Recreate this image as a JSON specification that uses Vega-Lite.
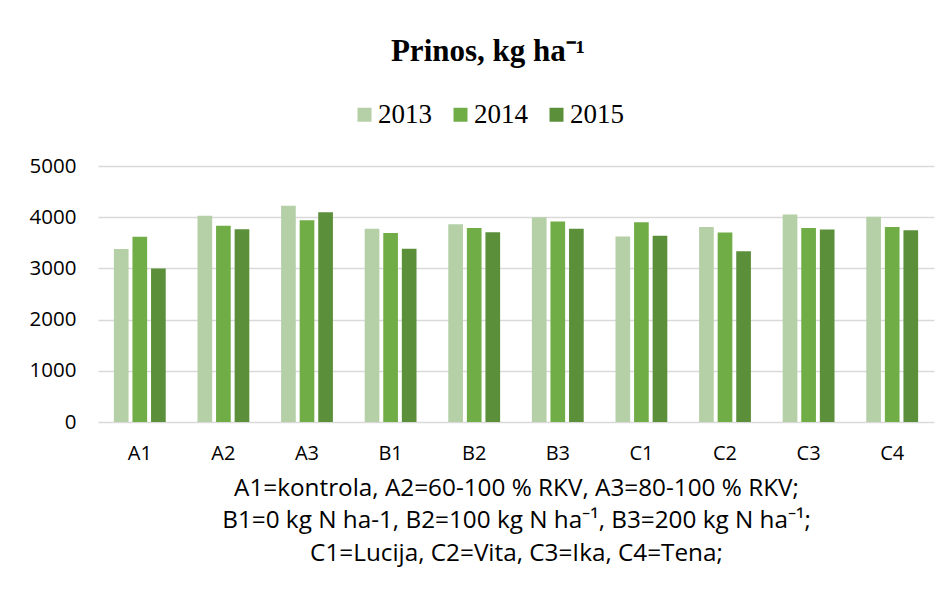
{
  "$schema": "https://vega.github.io/schema/vega-lite/v6.json",
  "width": 836,
  "height": 256,
  "autosize": "none",
  "padding": {"left": 98, "top": 166, "right": 14, "bottom": 176},
  "background": "white",
  "title": {
    "text": "Prinos, kg ha⁻¹",
    "font": "Liberation Serif",
    "fontSize": 31,
    "fontWeight": "bold",
    "color": "#000000",
    "anchor": "middle",
    "frame": "group",
    "dx": -28,
    "offset": 33
  },
  "data": {
    "values": [
      {"g": "A1", "year": "2013", "v": 3380},
      {"g": "A1", "year": "2014", "v": 3620},
      {"g": "A1", "year": "2015", "v": 3000},
      {"g": "A2", "year": "2013", "v": 4030},
      {"g": "A2", "year": "2014", "v": 3835},
      {"g": "A2", "year": "2015", "v": 3765},
      {"g": "A3", "year": "2013", "v": 4225},
      {"g": "A3", "year": "2014", "v": 3940},
      {"g": "A3", "year": "2015", "v": 4095},
      {"g": "B1", "year": "2013", "v": 3775},
      {"g": "B1", "year": "2014", "v": 3690},
      {"g": "B1", "year": "2015", "v": 3385},
      {"g": "B2", "year": "2013", "v": 3860},
      {"g": "B2", "year": "2014", "v": 3790},
      {"g": "B2", "year": "2015", "v": 3705},
      {"g": "B3", "year": "2013", "v": 4000},
      {"g": "B3", "year": "2014", "v": 3915},
      {"g": "B3", "year": "2015", "v": 3775},
      {"g": "C1", "year": "2013", "v": 3625},
      {"g": "C1", "year": "2014", "v": 3900},
      {"g": "C1", "year": "2015", "v": 3640},
      {"g": "C2", "year": "2013", "v": 3810},
      {"g": "C2", "year": "2014", "v": 3700},
      {"g": "C2", "year": "2015", "v": 3335},
      {"g": "C3", "year": "2013", "v": 4055},
      {"g": "C3", "year": "2014", "v": 3790},
      {"g": "C3", "year": "2015", "v": 3760},
      {"g": "C4", "year": "2013", "v": 4010},
      {"g": "C4", "year": "2014", "v": 3810},
      {"g": "C4", "year": "2015", "v": 3745}
    ]
  },
  "mark": {"type": "bar"},
  "encoding": {
    "x": {
      "field": "g",
      "type": "nominal",
      "sort": null,
      "scale": {"paddingInner": 0.38, "paddingOuter": 0.19},
      "axis": {
        "title": [
          "A1=kontrola, A2=60-100 % RKV, A3=80-100 % RKV;",
          "B1=0 kg N ha-1, B2=100 kg N ha⁻¹, B3=200 kg N ha⁻¹;",
          "C1=Lucija,  C2=Vita, C3=Ika, C4=Tena;"
        ],
        "titleFont": "Open Sans",
        "titleFontSize": 24.3,
        "titleFontWeight": "normal",
        "titleColor": "#000000",
        "titleLineHeight": 32.5,
        "titlePadding": 13,
        "labelAngle": 0,
        "labelFont": "Open Sans",
        "labelFontSize": 20,
        "labelColor": "#000000",
        "labelPadding": 21,
        "domain": false,
        "ticks": false,
        "grid": false
      }
    },
    "xOffset": {
      "field": "year",
      "type": "nominal",
      "scale": {"paddingInner": 0.21, "paddingOuter": 0}
    },
    "y": {
      "field": "v",
      "type": "quantitative",
      "scale": {"domain": [0, 5000], "nice": false},
      "axis": {
        "title": null,
        "format": "d",
        "values": [0, 1000, 2000, 3000, 4000, 5000],
        "labelFont": "Open Sans",
        "labelFontSize": 20.5,
        "labelColor": "#000000",
        "labelPadding": 22,
        "domain": false,
        "ticks": false,
        "grid": true,
        "gridColor": "#d9d9d9",
        "gridWidth": 1.3
      }
    },
    "color": {
      "field": "year",
      "type": "nominal",
      "scale": {"domain": ["2013", "2014", "2015"], "range": ["#b5cfa7", "#70ad47", "#5b8f3a"]},
      "legend": {
        "title": null,
        "orient": "none",
        "legendX": 253,
        "legendY": -65,
        "direction": "horizontal",
        "padding": 0,
        "symbolType": "square",
        "symbolSize": 196,
        "symbolStrokeWidth": 0,
        "labelFont": "Liberation Serif",
        "labelFontSize": 27,
        "labelColor": "#000000",
        "labelOffset": 0,
        "columnPadding": 15
      }
    }
  },
  "config": {
    "view": {"stroke": null}
  }
}
